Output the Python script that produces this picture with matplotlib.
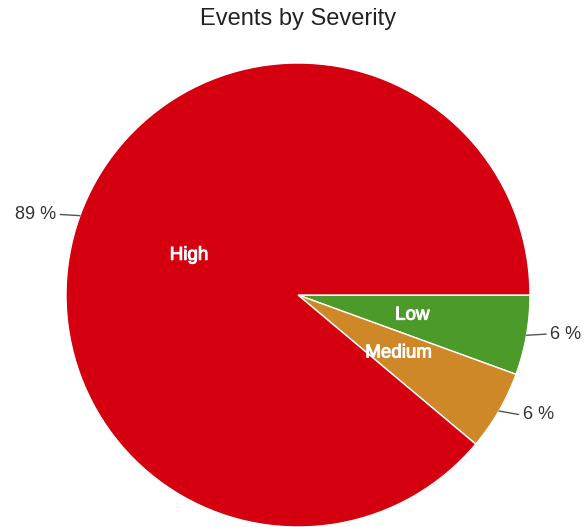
import numpy as np
import matplotlib
matplotlib.use("Agg")
import matplotlib.pyplot as plt
import matplotlib.patheffects as pe

# Event counts by severity, in clockwise order from 3 o'clock
categories = ["Low", "Medium", "High"]
counts = [1, 1, 16]
colors = ["#4C9A2A", "#CF8828", "#D40010"]

plt.rcParams["font.family"] = ["Liberation Sans", "DejaVu Sans"]

W, H = 585, 527
R = 232.0          # pie radius in pixels
CX, CY = 298, 295  # pie centre in pixels (from top-left)

fig = plt.figure(figsize=(W / 100, H / 100), dpi=100)
ax = fig.add_axes([0, 0, 1, 1])

total = sum(counts)
wedges, texts = ax.pie(
    counts,
    labels=categories,
    colors=colors,
    startangle=0,
    counterclock=False,
    labeldistance=0.5,
    radius=1.0,
    wedgeprops=dict(edgecolor="white", linewidth=1.0),
    textprops=dict(color="white", fontsize=13.5),
    frame=True,
)
ax.set_xlim(-CX / R, (W - CX) / R)
ax.set_ylim(-(H - CY) / R, CY / R)
ax.set_aspect("auto")
ax.axis("off")
for t in texts:
    t.set_ha("center")
    t.set_va("center")
    t.set_path_effects([pe.withStroke(linewidth=0.7, foreground="white")])

# Percentage labels outside the pie with short leader lines
for w, c in zip(wedges, counts):
    mid = np.deg2rad((w.theta1 + w.theta2) / 2)
    x0, y0 = np.cos(mid), np.sin(mid)
    side = 1 if x0 >= 0 else -1
    x1 = x0 + side * 0.085
    y1 = y0 + (-0.015 if y0 < -0.2 else 0.005)
    ax.plot([x0, x1], [y0, y1], color="#555555", lw=1.0, solid_capstyle="round")
    pct = round(100 * c / total)
    ax.text(x1 + side * 0.018, y1, f"{pct} %", ha="left" if side > 0 else "right",
            va="center", fontsize=13, color="#333333")

fig.text(CX / W, 1 - 19 / H, "Events by Severity", ha="center", va="center",
         fontsize=17, color="#222222")

fig.savefig("out.png", dpi=100)
